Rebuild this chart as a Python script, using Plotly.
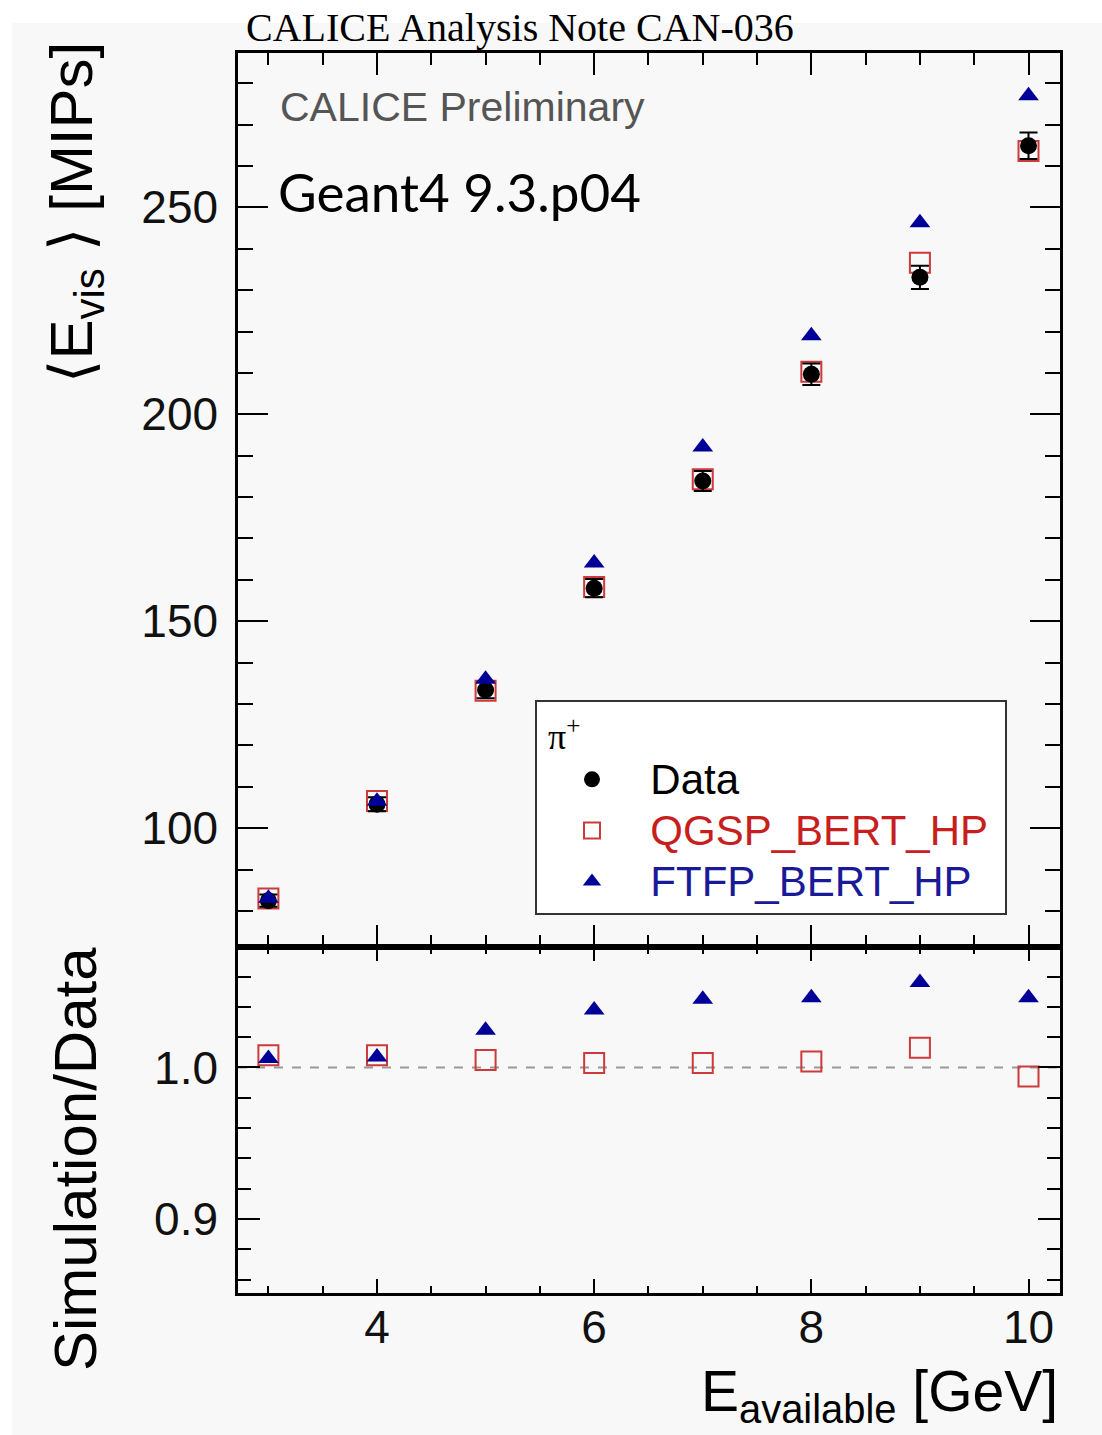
import plotly.graph_objects as go

# ---------------- data ----------------
energy = [3, 4, 5, 6, 7, 8, 9, 10]
data_mips = [82.5, 105.8, 133.4, 158.0, 183.9, 209.7, 233.1, 264.9]
data_err = [1.5, 1.7, 2.0, 2.2, 2.4, 2.6, 2.8, 3.2]
qgsp_mips = [83.0, 106.6, 133.2, 158.3, 184.3, 210.3, 236.6, 263.6]
ftfp_mips = [83.1, 106.5, 136.0, 164.1, 192.1, 219.0, 246.3, 277.0]
qgsp_ratio = [1.008, 1.008, 1.005, 1.003, 1.003, 1.004, 1.013, 0.994]
ftfp_ratio = [1.006, 1.007, 1.0245, 1.038, 1.045, 1.046, 1.056, 1.046]

x_range = [2.72, 10.29]
y_top_range = [71.3, 287.3]
y_bot_range = [0.8512, 1.0795]

W, H = 1102, 1435
ML, MR, MT, MB = 238, 42, 53, 142
PW, PH = W - ML - MR, H - MT - MB
SPLIT = (1293 - 947) / PH


def px(xp):
    return (xp - ML) / PW


def py(yp):
    return (H - MB - yp) / PH


BLACK = "#000000"
RED = "#cc3a3a"
RED_TXT = "#c81e1e"
BLUE = "#000099"
BLUE_TXT = "#1a1a99"
BG = "#f8f8f8"
SANS = "Liberation Sans, Arial, sans-serif"
NB = "\u00a0"

fig = go.Figure()

# top panel
fig.add_trace(go.Scatter(
    x=energy, y=qgsp_mips, mode="markers", xaxis="x2", yaxis="y",
    name=f'<span style="color:{RED_TXT};font-size:42px">{NB*2}QGSP_BERT_HP{NB}</span>',
    marker=dict(symbol="square-open", size=20, color=RED, line=dict(width=2, color=RED)),
    legendrank=2))
fig.add_trace(go.Scatter(
    x=energy, y=data_mips, mode="markers", xaxis="x2", yaxis="y",
    name=f'<span style="font-size:42px">{NB*2}Data</span>',
    error_y=dict(type="data", array=data_err, color=BLACK, thickness=2, width=9),
    marker=dict(symbol="circle", size=17, color=BLACK),
    legendrank=1))
fig.add_trace(go.Scatter(
    x=energy, y=ftfp_mips, mode="markers", xaxis="x2", yaxis="y",
    name=f'<span style="color:{BLUE_TXT};font-size:42px">{NB*2}FTFP_BERT_HP</span>',
    marker=dict(symbol="triangle-up", size=18, color=BLUE),
    legendrank=3))

# ratio panel
fig.add_trace(go.Scatter(
    x=energy, y=qgsp_ratio, mode="markers", xaxis="x", yaxis="y2", showlegend=False,
    marker=dict(symbol="square-open", size=20, color=RED, line=dict(width=2, color=RED))))
fig.add_trace(go.Scatter(
    x=energy, y=ftfp_ratio, mode="markers", xaxis="x", yaxis="y2", showlegend=False,
    marker=dict(symbol="triangle-up", size=18, color=BLUE)))

axis_common = dict(showline=True, linecolor=BLACK, linewidth=2.5, mirror="ticks",
                   ticks="inside", tickcolor=BLACK, tickwidth=2, showgrid=False,
                   zeroline=False, tickfont=dict(family=SANS, size=46, color="#111"))

fig.update_layout(
    width=W, height=H,
    margin=dict(l=ML, r=MR, t=MT, b=MB),
    paper_bgcolor=BG, plot_bgcolor=BG,
    xaxis=dict(domain=[0, 1], anchor="y2", range=x_range, tick0=0, dtick=2, ticklen=14,
               minor=dict(dtick=0.5, tick0=0, ticklen=7, ticks="inside", tickcolor=BLACK, tickwidth=2),
               ticklabelstandoff=-8, **axis_common),
    xaxis2=dict(domain=[0, 1], anchor="y", matches="x", range=x_range, tick0=0, dtick=2, ticklen=22,
                showticklabels=False,
                minor=dict(dtick=0.5, tick0=0, ticklen=12, ticks="inside", tickcolor=BLACK, tickwidth=2),
                **axis_common),
    yaxis=dict(domain=[SPLIT, 1], anchor="x2", range=y_top_range, tick0=0, dtick=50, ticklen=30,
               minor=dict(dtick=10, tick0=0, ticklen=15, ticks="inside", tickcolor=BLACK, tickwidth=2),
               ticklabelstandoff=8, **axis_common),
    yaxis2=dict(domain=[0, SPLIT], anchor="x", range=y_bot_range, tick0=0, dtick=0.1, ticklen=22,
                tickformat=".1f",
                minor=dict(dtick=0.02, tick0=0, ticklen=13, ticks="inside", tickcolor=BLACK, tickwidth=2),
                ticklabelstandoff=8, **axis_common),
    legend=dict(
        x=px(535), y=py(700), xanchor="left", yanchor="top",
        bgcolor="#ffffff", bordercolor="#333333", borderwidth=2,
        font=dict(family=SANS, size=37, color=BLACK),
        title=dict(text=f"{NB}π<sup>+</sup>", font=dict(family="Liberation Serif, serif", size=36, color=BLACK)),
        tracegroupgap=0, itemwidth=60, indentation=20,
    ),
    showlegend=True,
)

shapes = [
    # white strips outside the grey canvas
    dict(type="rect", xref="paper", yref="paper", x0=-0.4, x1=1.2, y0=py(23), y1=1.2,
         fillcolor="white", line=dict(width=0), layer="below"),
    dict(type="rect", xref="paper", yref="paper", x0=-0.4, x1=px(12), y0=-0.2, y1=1.2,
         fillcolor="white", line=dict(width=0), layer="below"),
    # reference line at ratio 1
    dict(type="line", xref="x domain", yref="y2", x0=0, x1=1, y0=1.0, y1=1.0,
         line=dict(color="#999999", width=2, dash="dash"), layer="below"),
]
fig.update_layout(shapes=shapes)

annotations = [
    dict(text="CALICE Analysis Note CAN-036", x=px(520), y=py(28), xref="paper", yref="paper",
         showarrow=False, xanchor="center", yanchor="middle",
         font=dict(family="Liberation Serif, Times New Roman, serif", size=40, color=BLACK)),
    dict(text="CALICE Preliminary", x=px(278), y=py(107), xref="paper", yref="paper",
         showarrow=False, xanchor="left", yanchor="middle",
         font=dict(family=SANS, size=41, color="#555555")),
    dict(text="Geant4 9.3.p04", x=px(276), y=py(192), xref="paper", yref="paper",
         showarrow=False, xanchor="left", yanchor="middle",
         font=dict(family="Lato, sans-serif", size=53, color=BLACK)),
    dict(text="⟨E<sub>vis</sub> ⟩ [MIPs]", x=px(75), y=py(40), xref="paper", yref="paper",
         showarrow=False, xanchor="center", yanchor="top", textangle=-90,
         font=dict(family=SANS, size=60, color=BLACK)),
    dict(text="Simulation/Data", x=px(75), y=py(945), xref="paper", yref="paper",
         showarrow=False, xanchor="center", yanchor="top", textangle=-90,
         font=dict(family=SANS, size=60, color=BLACK)),
    dict(text="E<sub>available</sub> [GeV]", x=px(1060), y=py(1395), xref="paper", yref="paper",
         showarrow=False, xanchor="right", yanchor="middle",
         font=dict(family=SANS, size=57, color=BLACK)),
]
fig.update_layout(annotations=annotations)

fig.write_html("out.html")
